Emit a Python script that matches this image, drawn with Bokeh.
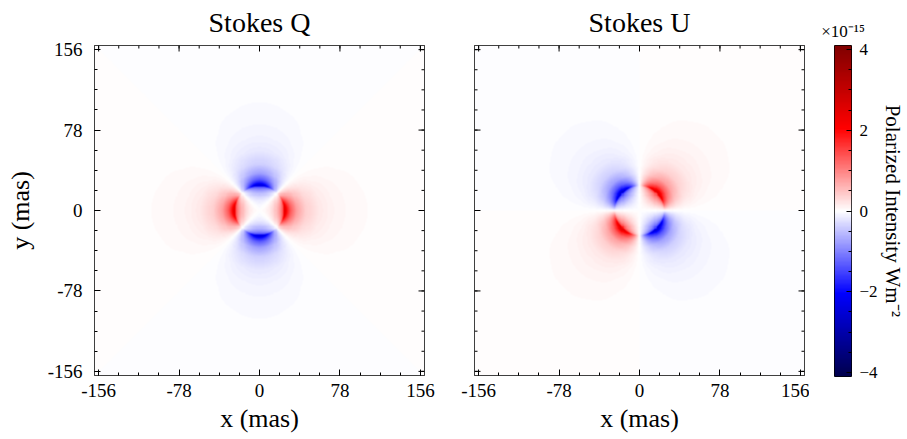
import numpy as np
from bokeh.plotting import figure
from bokeh.models import LinearColorMapper, FixedTicker, Range1d
from bokeh.layouts import row
from bokeh.embed import file_html
from bokeh.resources import INLINE

# ---------------- data ----------------
# radial profile of polarized intensity (units of 1e-15 W m^-2), vs projected radius (mas)
radius_mas = [0, 6, 10, 14, 18, 21, 23, 24, 25, 27, 30, 36, 45, 57, 70, 85, 100, 120, 140, 160, 240]
pol_intensity_e15 = [0.0, 0.06, 0.17, 0.35, 0.70, 1.06, 1.60, 2.60, 2.30, 1.83, 1.33, 0.77,
                     0.39, 0.19, 0.105, 0.058, 0.036, 0.021, 0.013, 0.0088, 0.0026]
image_half_width_mas = 160
tick_values = [-156, -78, 0, 78, 156]
tick_labels = ["-156", "-78", "0", "78", "156"]
minor_tick_values = [-156 + 19.5 * k for k in range(17)]
cbar_ticks = [-4, -2, 0, 2, 4]
cbar_tick_labels = ["\u22124", "\u22122", "0", "2", "4"]
cbar_minor_ticks = [-4 + 0.5 * k for k in range(17)]
cbar_limit = 4.1
panel_titles = ["Stokes Q", "Stokes U"]

# ---------------- build images ----------------
n = 2 * image_half_width_mas
coords = np.linspace(-image_half_width_mas + 0.5, image_half_width_mas - 0.5, n)
X, Y = np.meshgrid(coords, coords)
R = np.hypot(X, Y)
TH = np.arctan2(Y, X)
P = np.interp(R, radius_mas, pol_intensity_e15)
stokes_q = P * np.cos(2 * TH)
stokes_u = P * np.sin(2 * TH)

# seismic colormap
def seismic_palette(nc=256):
    pos = [0.0, 0.25, 0.5, 0.75, 1.0]
    r = [0.0, 0.0, 1.0, 1.0, 0.5]
    g = [0.0, 0.0, 1.0, 0.0, 0.0]
    b = [0.3, 1.0, 1.0, 0.0, 0.0]
    t = np.linspace(0, 1, nc)
    rr = np.interp(t, pos, r); gg = np.interp(t, pos, g); bb = np.interp(t, pos, b)
    return ["#%02x%02x%02x" % (int(round(a * 255)), int(round(c * 255)), int(round(d * 255)))
            for a, c, d in zip(rr, gg, bb)]

mapper = LinearColorMapper(palette=seismic_palette(), low=-cbar_limit, high=cbar_limit)

FONT = "Liberation Serif"
H = image_half_width_mas
PX = 330.0 / (2 * H)   # pixels per mas
MAJ = 6 / PX
MIN = 3 / PX


def style_axis(ax):
    ax.ticker = FixedTicker(ticks=tick_values, minor_ticks=minor_tick_values)
    ax.major_label_overrides = {v: s for v, s in zip(tick_values, tick_labels)}
    ax.major_tick_in = 6
    ax.major_tick_out = 0
    ax.minor_tick_in = 3
    ax.minor_tick_out = 0
    ax.major_tick_line_color = "black"
    ax.minor_tick_line_color = "black"
    ax.axis_line_color = None
    ax.major_label_text_font = FONT
    ax.major_label_text_color = "black"
    ax.major_label_text_font_size = "19px"
    ax.axis_label_text_font = FONT
    ax.axis_label_text_font_style = "normal"
    ax.axis_label_text_color = "black"
    ax.axis_label_text_font_size = "26px"


def add_edge_ticks(p, sides):
    tv = np.array(tick_values, dtype=float)
    mv = np.array(minor_tick_values, dtype=float)
    for vals, ln in ((tv, MAJ), (mv, MIN)):
        xs0, ys0, xs1, ys1 = [], [], [], []
        for s in sides:
            if s == "top":
                xs0 += list(vals); xs1 += list(vals)
                ys0 += [H] * len(vals); ys1 += [H - ln] * len(vals)
            elif s == "right":
                ys0 += list(vals); ys1 += list(vals)
                xs0 += [H] * len(vals); xs1 += [H - ln] * len(vals)
            elif s == "left":
                ys0 += list(vals); ys1 += list(vals)
                xs0 += [-H] * len(vals); xs1 += [-H + ln] * len(vals)
        p.segment(x0=xs0, y0=ys0, x1=xs1, y1=ys1, line_color="black", line_width=1)


def make_panel(img, title, show_y, mb_left, mb_right):
    p = figure(frame_width=330, frame_height=330,
               x_range=Range1d(-H, H), y_range=Range1d(-H, H),
               output_backend="svg", toolbar_location=None, title=title,
               y_axis_location=("left" if show_y else None),
               min_border_left=mb_left, min_border_right=mb_right,
               min_border_top=45, min_border_bottom=64)
    p.image(image=[img], x=-H, y=-H, dw=2 * H, dh=2 * H, color_mapper=mapper)
    p.grid.visible = False
    p.outline_line_color = "black"
    p.outline_line_width = 1
    p.outline_line_alpha = 1
    p.background_fill_color = "white"
    p.border_fill_color = "white"
    p.title.text_font = FONT
    p.title.text_font_style = "normal"
    p.title.text_font_size = "28px"
    p.title.align = "center"
    p.title.vertical_align = "top"
    p.title.text_color = "black"
    p.title.standoff = 12
    style_axis(p.xaxis[0])
    p.xaxis[0].axis_label = "x (mas)"
    p.xaxis[0].major_label_standoff = 8
    p.xaxis[0].axis_label_standoff = 4
    if show_y:
        style_axis(p.yaxis[0])
        p.yaxis[0].axis_label = "y (mas)"
        p.yaxis[0].major_label_standoff = 12
        p.yaxis[0].axis_label_standoff = 10
        add_edge_ticks(p, ["top", "right"])
    else:
        add_edge_ticks(p, ["top", "right", "left"])
    return p

p1 = make_panel(stokes_q, panel_titles[0], True, 94, 25)
p2 = make_panel(stokes_u, panel_titles[1], False, 25, 5)

# ---------------- colorbar ----------------
cbar_img = np.linspace(-cbar_limit, cbar_limit, 256).reshape(256, 1)
p3 = figure(frame_width=17, frame_height=331, x_range=Range1d(0, 1),
            y_range=Range1d(-cbar_limit, cbar_limit), output_backend="svg",
            toolbar_location=None, x_axis_location=None, y_axis_location="right",
            title="\u00d710\u207b\u00b9\u2075",
            min_border_left=25, min_border_right=56, min_border_top=44, min_border_bottom=64)
p3.image(image=[cbar_img], x=0, y=-cbar_limit, dw=1, dh=2 * cbar_limit, color_mapper=mapper)
p3.grid.visible = False
p3.outline_line_color = "black"
p3.outline_line_width = 1
p3.border_fill_color = "white"
p3.title.text_font = FONT
p3.title.text_font_style = "normal"
p3.title.text_font_size = "17px"
p3.title.align = "center"
p3.title.text_color = "black"
p3.title.standoff = 9
cax = p3.yaxis[0]
cax.ticker = FixedTicker(ticks=cbar_ticks, minor_ticks=cbar_minor_ticks)
cax.major_label_overrides = {v: s for v, s in zip(cbar_ticks, cbar_tick_labels)}
cax.major_tick_in = 5
cax.major_tick_out = 0
cax.minor_tick_in = 3
cax.minor_tick_out = 0
cax.axis_line_color = None
cax.major_tick_line_color = "black"
cax.minor_tick_line_color = "black"
cax.major_label_text_font = FONT
cax.major_label_text_font_size = "17px"
cax.major_label_text_color = "black"
cax.major_label_standoff = 8
cax.axis_label = "Polarized Intensity Wm\u207b\u00b2"
cax.axis_label_text_font = FONT
cax.axis_label_text_font_style = "normal"
cax.axis_label_text_font_size = "21px"
cax.axis_label_text_color = "black"
cax.axis_label_standoff = 0

layout = row(p1, p2, p3, spacing=0)
open("out.html", "w").write(file_html(layout, INLINE))
